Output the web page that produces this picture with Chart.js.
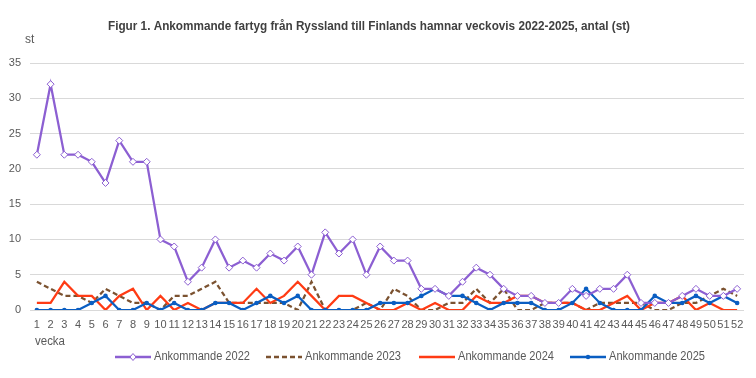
<!DOCTYPE html>
<html lang="sv">
<head>
<meta charset="UTF-8">
<title>Ankommande fartyg från Ryssland</title>
<script src="https://cdn.jsdelivr.net/npm/chart.js"></script>
<style>
  html, body { margin: 0; padding: 0; background: #fff; }
  #wrap { width: 756px; height: 378px; }
</style>
</head>
<body>
<div id="wrap"><canvas id="fartyg" width="756" height="378"></canvas></div>
<script>
// veckor 1-52
const weeks = [];
for (let w = 1; w <= 52; w++) weeks.push(String(w));

const yTicks = [0, 5, 10, 15, 20, 25, 30, 35];

const arr2022 = [22,32,22,22,21,18,24,21,21,10,9,4,6,10,6,7,6,8,7,9,5,11,8,10,5,9,7,7,3,3,2,4,6,5,3,2,2,1,1,3,2,3,3,5,1,1,1,2,3,2,2,3];
const arr2023 = [4,3,2,2,1,3,2,1,1,0,2,2,3,4,1,1,1,1,1,0,4,0,0,0,1,0,3,2,0,0,1,1,3,1,3,0,0,1,1,1,0,1,1,1,1,0,0,1,1,2,3,2];
const arr2024 = [1,1,4,2,2,0,2,3,0,2,0,1,0,1,1,1,3,1,2,4,2,0,2,2,1,0,0,1,0,1,0,0,2,1,1,2,2,1,1,1,0,0,1,2,0,1,1,2,0,1,0,0];
const arr2025 = [0,0,0,0,1,2,0,0,1,0,1,0,0,1,1,0,1,2,1,2,0,0,0,0,0,1,1,1,2,3,2,2,1,0,1,1,1,0,0,1,3,1,0,0,0,2,1,1,2,1,2,1];

const seriesNames = ['Ankommande 2022', 'Ankommande 2023', 'Ankommande 2024', 'Ankommande 2025'];

const FONT = '"Liberation Sans Narrow", "Liberation Sans", sans-serif';
const TXT = '#595959';

const cPurple = '#8c5fd2';
const cBrown = '#7b5230';
const cRed = '#ff3b14';
const cBlue = '#0a5ec2';

// titel, axeltexter och legend ritas direkt på canvas
const extras = {
  id: 'extras',
  afterDraw(chart) {
    const ctx = chart.ctx;
    ctx.save();
    ctx.fillStyle = '#404040';
    ctx.font = 'bold 12px ' + FONT;
    ctx.textAlign = 'center';
    ctx.textBaseline = 'middle';
    ctx.fillText('Figur 1. Ankommande fartyg från Ryssland till Finlands hamnar veckovis 2022-2025, antal (st)', 369, 27, 522);

    ctx.font = '12px ' + FONT;
    ctx.fillStyle = TXT;
    ctx.textAlign = 'left';
    ctx.fillText('st', 25, 40);
    ctx.fillText('vecka', 35, 342, 30);

    const ds = chart.data.datasets;
    const items = [115, 266, 419, 570];
    const y = 357;
    ds.forEach((d, i) => {
      const x0 = items[i], x1 = x0 + 36;
      ctx.beginPath();
      ctx.strokeStyle = d.borderColor;
      ctx.lineWidth = 2.5;
      ctx.setLineDash(d.borderDash || []);
      ctx.moveTo(x0, y);
      ctx.lineTo(x1, y);
      ctx.stroke();
      ctx.setLineDash([]);
      const mx = (x0 + x1) / 2;
      if (d.pointStyle === 'rectRot') {
        ctx.beginPath();
        ctx.moveTo(mx, y - 3.5); ctx.lineTo(mx + 3, y); ctx.lineTo(mx, y + 3.5); ctx.lineTo(mx - 3, y); ctx.closePath();
        ctx.fillStyle = '#fff'; ctx.fill();
        ctx.lineWidth = 1; ctx.strokeStyle = d.borderColor; ctx.stroke();
      } else if (d.pointRadius > 0) {
        ctx.beginPath();
        ctx.arc(mx, y, 2.2, 0, Math.PI * 2);
        ctx.fillStyle = d.borderColor; ctx.fill();
      }
      ctx.fillStyle = TXT;
      ctx.font = '12px ' + FONT;
      ctx.textAlign = 'left';
      ctx.fillText(d.label, x1 + 3, y, 96);
    });
    ctx.restore();
  }
};

new Chart(document.getElementById('fartyg'), {
  type: 'line',
  data: {
    labels: weeks,
    datasets: [
      {
        label: seriesNames[0], data: arr2022,
        borderColor: cPurple, borderWidth: 2.25,
        pointStyle: 'rectRot', pointRadius: 3.5, pointBorderWidth: 1,
        pointBackgroundColor: '#fff', pointBorderColor: cPurple,
        tension: 0, order: 1
      },
      {
        label: seriesNames[1], data: arr2023,
        borderColor: cBrown, borderWidth: 2.25, borderDash: [5, 3],
        pointRadius: 0, tension: 0, order: 4
      },
      {
        label: seriesNames[2], data: arr2024,
        borderColor: cRed, borderWidth: 2.25,
        pointRadius: 0, tension: 0, order: 3
      },
      {
        label: seriesNames[3], data: arr2025,
        borderColor: cBlue, borderWidth: 2.25,
        pointStyle: 'circle', pointRadius: 2.3, pointBorderWidth: 0,
        pointBackgroundColor: cBlue, pointBorderColor: cBlue,
        tension: 0, order: 2
      }
    ]
  },
  options: {
    responsive: false,
    animation: false,
    layout: { padding: { top: 63, right: 12, left: 0, bottom: 0 } },
    plugins: { legend: { display: false }, title: { display: false }, tooltip: { enabled: false } },
    scales: {
      x: {
        offset: true,
        grid: { display: false, drawTicks: false },
        border: { display: false },
        ticks: { autoSkip: false, maxRotation: 0, padding: 8, color: TXT, font: { family: FONT, size: 11 } },
        afterFit(s) { s.height = 68; }
      },
      y: {
        min: 0, max: 35,
        afterBuildTicks(s) { s.ticks = yTicks.map(v => ({ value: v })); },
        grid: { color: '#d9d9d9', lineWidth: 1, drawTicks: false },
        border: { display: false },
        ticks: { padding: 9, color: TXT, font: { family: FONT, size: 11 } },
        afterFit(s) { s.width = 30; }
      }
    }
  },
  plugins: [extras]
});
</script>
</body>
</html>
